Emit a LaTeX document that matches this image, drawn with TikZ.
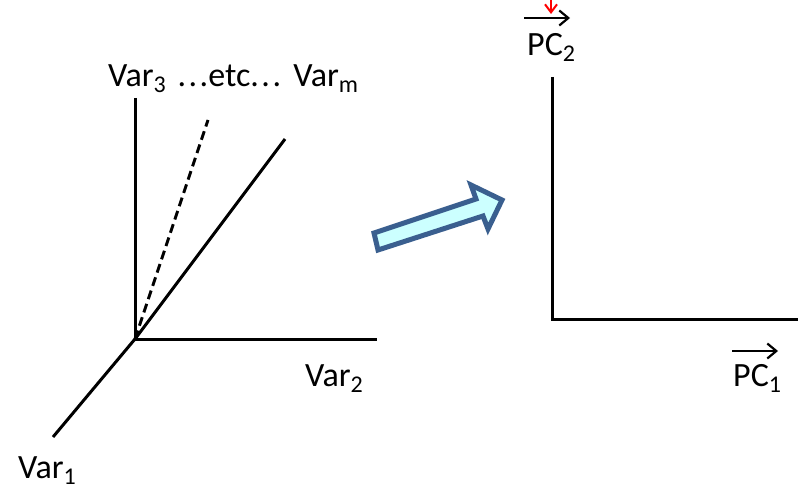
\documentclass[tikz,border=0pt]{standalone}
\usepackage{fontspec}
\setmainfont{Carlito}
\usetikzlibrary{arrows.meta}
\newcommand{\lowsub}[1]{\raisebox{-6pt}{\fontsize{24}{24}\selectfont #1}}
\newcommand{\wdots}{.\kern2.5pt.\kern2.5pt.}
\definecolor{arrowblue}{HTML}{3A5F8F}
\definecolor{arrowfill}{HTML}{CCFFFF}
\tikzset{
  axis/.style={line width=3pt},
  lbl/.style={inner sep=0pt, anchor=base west, font=\fontsize{34}{40}\selectfont},
  vecarrow/.style={line width=2.2pt, -{Straight Barb[length=9pt,width=15pt,line width=2.2pt]}},
}
\begin{document}
\begin{tikzpicture}[x=1pt,y=-1pt]
\useasboundingbox (0,0) rectangle (798,492);
% left axes
\coordinate (o) at (135,339);
\coordinate (v3) at (135,98);
\coordinate (v2) at (377,339);
\coordinate (vd) at (208,120);
\coordinate (vs) at (285,139);
\coordinate (v1) at (53,437);
\draw[axis] (v3) -- (o) -- (v2);
\draw[axis] (o) -- (vs);
\draw[axis] (o) -- (v1);
\draw[axis, dash pattern=on 9pt off 5pt] (o) -- (vd);
\node[lbl] (top) at (108,87) {Var\lowsub{3}\kern4pt{} \wdots etc\wdots\kern2pt{} Var\lowsub{m}};
\node[lbl] (l2) at (305,386) {Var\lowsub{2}};
\node[lbl] (l1) at (18,478) {Var\lowsub{1}};
% block arrow
\filldraw[draw=arrowblue, fill=arrowfill, line width=5pt, line join=miter]
  (378,250) -- (374,233) -- (476,199) -- (471,185) -- (502,200)
  -- (488,229) -- (483,216) -- cycle;
% right axes
\coordinate (po) at (552,319);
\coordinate (p2) at (552,77);
\coordinate (p1) at (798,319);
\draw[axis] (p2) -- (po) -- (p1);
\node[lbl] (pc2) at (527,56) {PC\lowsub{2}};
\node[lbl] (pc1) at (733,386) {PC\lowsub{1}};
\coordinate (a2s) at (524,18);
\coordinate (a2e) at (570,18);
\coordinate (a1s) at (732,351);
\coordinate (a1e) at (778,351);
\draw[vecarrow] (a2s) -- (a2e);
\draw[vecarrow] (a1s) -- (a1e);
% red arrow tip at top
\coordinate (rs) at (551,-6);
\coordinate (re) at (551,14);
\draw[red, line width=2pt, -{Straight Barb[length=8pt,width=12pt,line width=2pt]}] (rs) -- (re);
\end{tikzpicture}
\end{document}
